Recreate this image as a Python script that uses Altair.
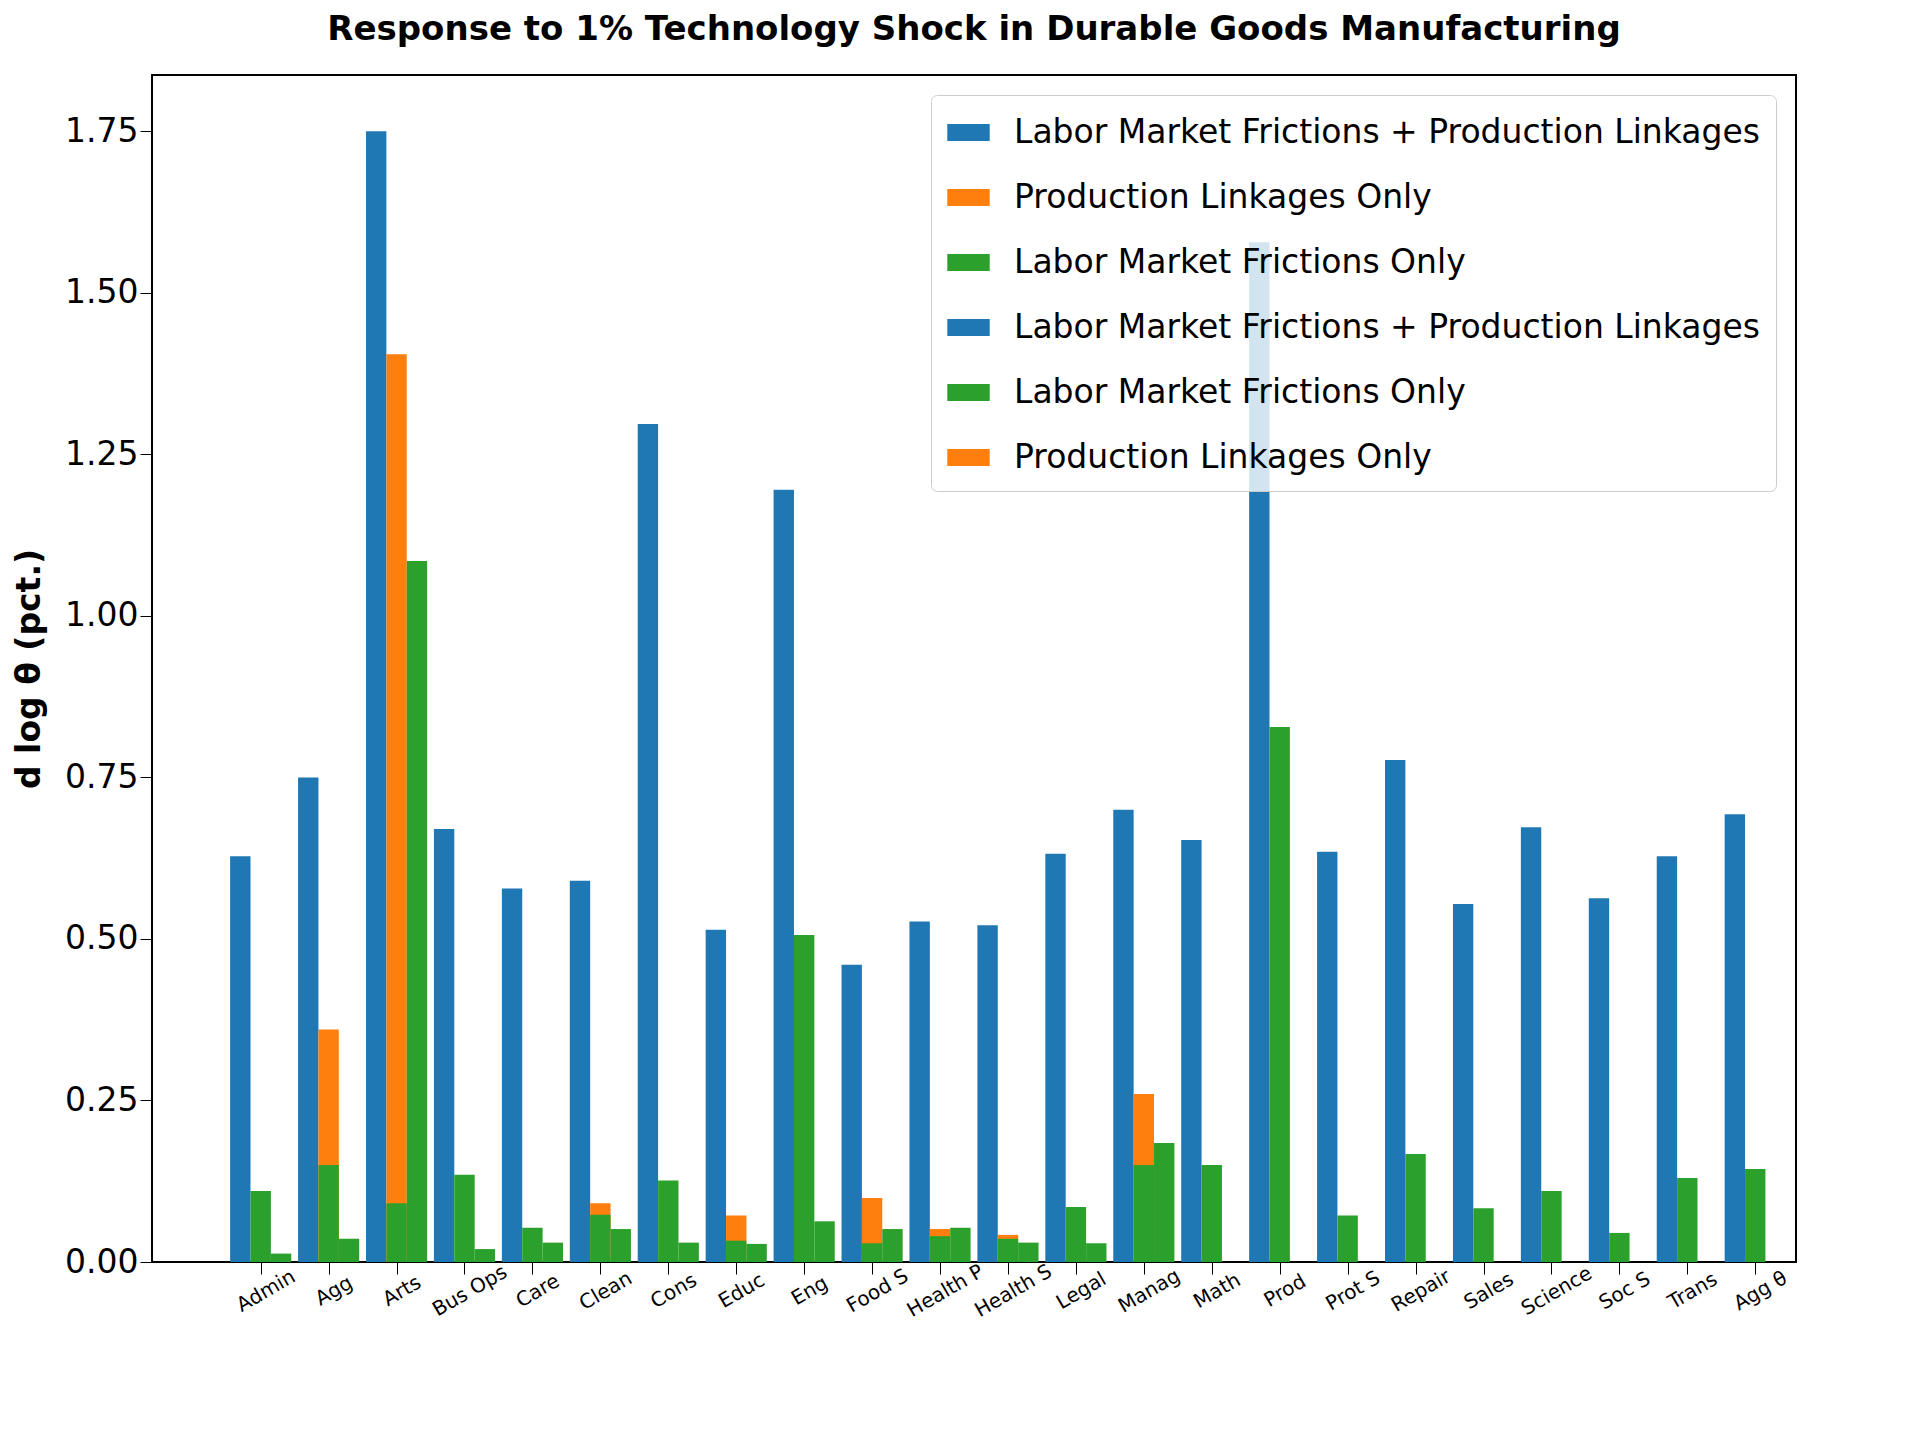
import altair as alt
import pandas as pd

categories = ["Admin", "Agg", "Arts", "Bus Ops", "Care", "Clean", "Cons", "Educ", "Eng",
              "Food S", "Health P", "Health S", "Legal", "Manag", "Math", "Prod", "Prot S",
              "Repair", "Sales", "Science", "Soc S", "Trans", "Agg θ"]

# left slot: frictions + linkages
blue = [0.628, 0.75, 1.75, 0.67, 0.578, 0.59, 1.297, 0.514, 1.195, 0.46, 0.527, 0.521,
        0.632, 0.70, 0.653, 1.578, 0.635, 0.777, 0.554, 0.673, 0.563, 0.628, 0.693]
# middle slot: linkages only (drawn first), frictions only on top
orange = [0.0, 0.36, 1.405, 0.0, 0.0, 0.091, 0.0, 0.072, 0.0, 0.099, 0.051, 0.042,
          0.0, 0.26, 0.0, 0.0, 0.0, 0.0, 0.0, 0.0, 0.0, 0.0, 0.0]
green_mid = [0.11, 0.15, 0.091, 0.135, 0.053, 0.073, 0.126, 0.033, 0.506, 0.029, 0.04, 0.036,
             0.085, 0.15, 0.15, 0.828, 0.072, 0.167, 0.083, 0.11, 0.045, 0.13, 0.144]
# right slot: frictions only (second series)
green_right = [0.013, 0.036, 1.085, 0.02, 0.03, 0.051, 0.03, 0.028, 0.063, 0.051, 0.053, 0.03,
               0.029, 0.184, 0.0, 0.0, 0.0, 0.0, 0.0, 0.0, 0.0, 0.0, 0.0]

series = ["Labor Market Frictions + Production Linkages",
          "Production Linkages Only",
          "Labor Market Frictions Only",
          "Labor Market Frictions + Production Linkages ",
          "Labor Market Frictions Only ",
          "Production Linkages Only "]
colors = ["#1f77b4", "#ff7f0e", "#2ca02c", "#1f77b4", "#2ca02c", "#ff7f0e"]

W = 0.3
rows = []
for vals, slot, s, order in [(blue, -1, series[0], 0), (orange, 0, series[1], 1),
                             (green_mid, 0, series[2], 2), (green_right, 1, series[2], 3)]:
    for i, v in enumerate(vals):
        if v > 0:
            rows.append({"i": i, "slot": slot, "value": v, "series": s, "order": order})
df = pd.DataFrame(rows)

label_expr = "[" + ",".join("'%s'" % c for c in categories) + "][datum.value]"

chart = (
    alt.Chart(df)
    .transform_calculate(x0=f"datum.i + datum.slot*{W} - {W/2}", x1=f"datum.i + datum.slot*{W} + {W/2}")
    .mark_bar(strokeWidth=0)
    .encode(
        x=alt.X("x0:Q", scale=alt.Scale(domain=[-1.6, 22.6], nice=False, zero=False),
                axis=alt.Axis(values=list(range(len(categories))), labelExpr=label_expr,
                              labelAngle=-30, labelAlign="center", labelBaseline="top",
                              labelFontSize=20, labelPadding=8, labelOverlap=False,
                              title=None, grid=False,
                              tickSize=12, tickColor="black", domainColor="black")),
        x2="x1:Q",
        y=alt.Y("value:Q", scale=alt.Scale(domain=[0, 1.837], nice=False),
                axis=alt.Axis(values=[0, 0.25, 0.5, 0.75, 1.0, 1.25, 1.5, 1.75], format=".2f",
                              labelFontSize=33, tickSize=12, grid=False, tickColor="black",
                              domainColor="black", title="d log θ   (pct.)",
                              titleFontSize=33, titleFontWeight="bold", titlePadding=18)),
        y2=alt.datum(0),
        color=alt.Color("series:N",
                        scale=alt.Scale(domain=series, range=colors),
                        legend=alt.Legend(title=None, orient="top-right", labelFontSize=33,
                                          symbolType="M-1,-0.4H1V0.4H-1Z", symbolSize=1800,
                                          symbolStrokeWidth=0, symbolOpacity=1,
                                          rowPadding=26, padding=16, offset=20,
                                          strokeColor="#cccccc", cornerRadius=6,
                                          fillColor="rgba(255,255,255,0.8)", labelLimit=1200,
                                          labelOffset=24)),
        order="order:Q",
    )
    .properties(width=1644, height=1187,
                title=alt.Title("Response to 1% Technology Shock in Durable Goods Manufacturing",
                                fontSize=34, fontWeight="bold", anchor="middle", offset=28))
    .configure(font="DejaVu Sans")
    .configure_view(stroke="black", strokeWidth=2)
)

chart.save("out.html", embed_options={"renderer": "svg", "actions": False})
